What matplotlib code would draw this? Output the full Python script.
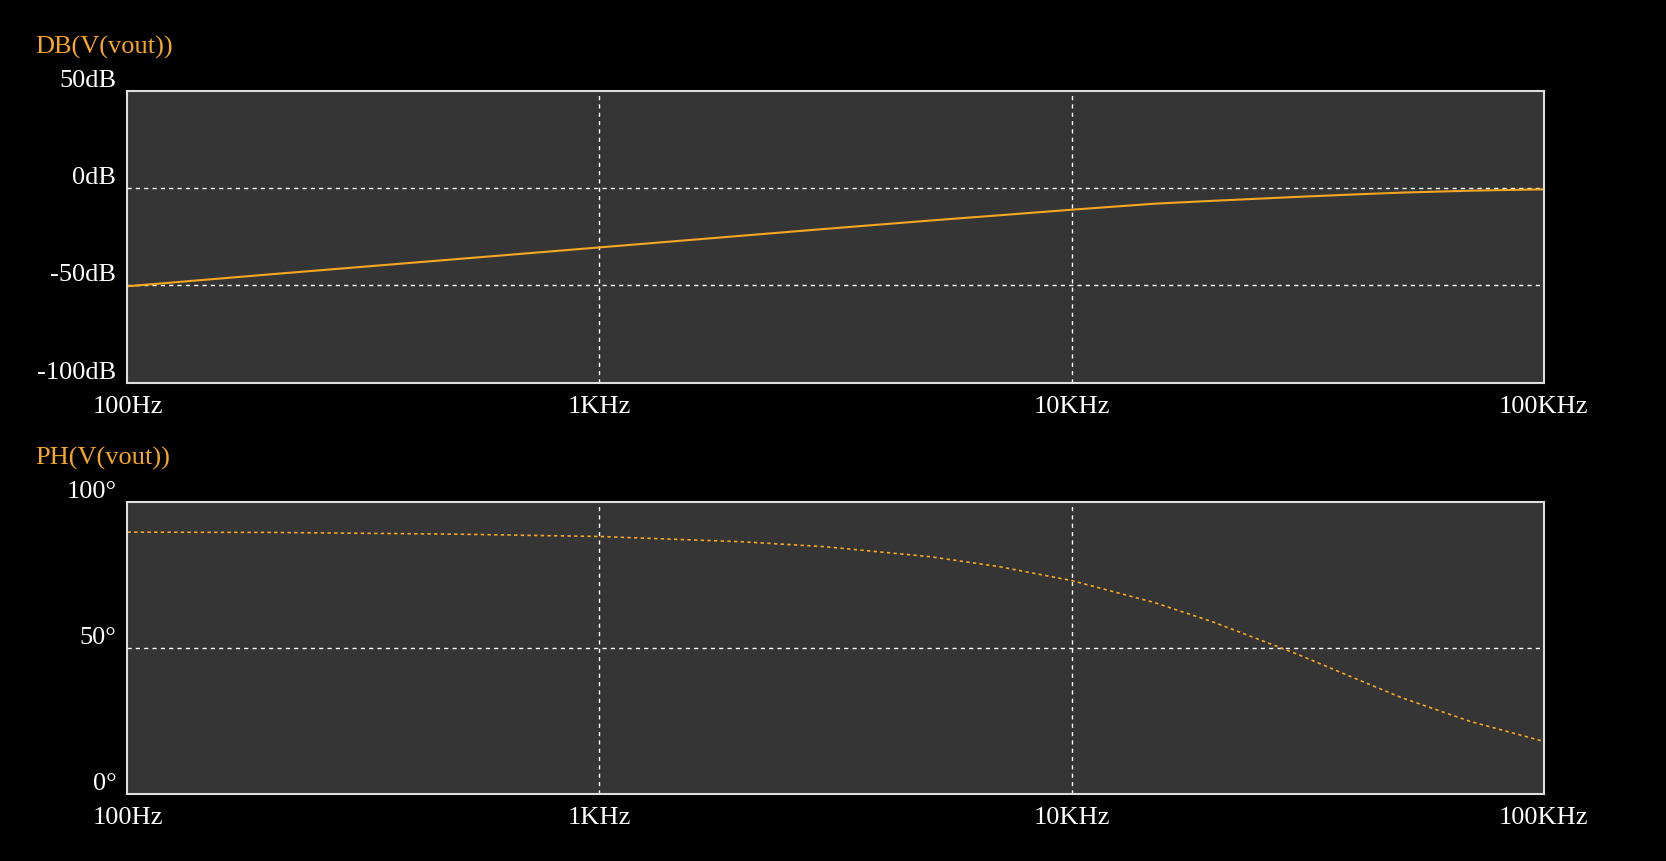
import numpy as np
import matplotlib
matplotlib.use("Agg")
import matplotlib.pyplot as plt

# values
freq = [100, 200, 500, 1000, 2000, 3000, 5000, 7000, 10000, 15000, 20000,
        30000, 40000, 50000, 70000, 100000]
db = [-50.4, -44.3, -36.4, -30.4, -24.4, -20.9, -16.6, -13.9, -11.0, -7.9,
      -6.4, -4.4, -3.1, -2.2, -1.2, -0.5]
phase = [89.8, 89.7, 89.1, 88.3, 86.5, 84.8, 81.4, 78.0, 73.2, 65.6, 58.9,
         48.0, 39.5, 33.0, 24.8, 18.0]

freq_ticks = [100, 1000, 10000, 100000]
freq_labels = ['100Hz', '1KHz', '10KHz', '100KHz']

orange = '#f5a623'
bg = '#353535'
plt.rcParams['font.family'] = ['Liberation Serif', 'DejaVu Serif']

fig = plt.figure(figsize=(16.66, 8.62), dpi=100, facecolor='black')
ax1 = fig.add_axes([0.0765, 0.555, 0.850, 0.338])
ax2 = fig.add_axes([0.0765, 0.078, 0.850, 0.338])


def style(ax, yticks, ylabels, title):
    ax.set_facecolor(bg)
    ax.set_xscale('log')
    ax.set_xlim(100, 100000)
    ax.set_ylim(yticks[0], yticks[-1])
    ax.set_xticks(freq_ticks)
    ax.set_xticklabels(freq_labels)
    ax.minorticks_off()
    ax.set_yticks(yticks)
    ax.set_yticklabels(ylabels, va='bottom')
    ax.tick_params(colors='white', labelsize=19, length=0)
    ax.tick_params(axis='x', pad=9)
    ax.tick_params(axis='y', pad=8)
    for s in ax.spines.values():
        s.set_color('#dddddd')
        s.set_linewidth(1.5)
    for x in freq_ticks[1:-1]:
        ax.axvline(x, color='white', ls=(0, (3, 3)), lw=1)
    for y in yticks[1:-1]:
        ax.axhline(y, color='white', ls=(0, (3, 3)), lw=1)
    ax.text(-0.065, 1.155, title, transform=ax.transAxes, color=orange,
            fontsize=19, va='center', ha='left')


style(ax1, [-100, -50, 0, 50], ['-100dB', '-50dB', '0dB', '50dB'], 'DB(V(vout))')
style(ax2, [0, 50, 100], ['0°', '50°', '100°'], 'PH(V(vout))')

ax1.plot(freq, db, color=orange, lw=1.5)
ax2.plot(freq, phase, color=orange, lw=1.2, ls=(0, (2, 2)))

fig.savefig('out.png', facecolor='black')
